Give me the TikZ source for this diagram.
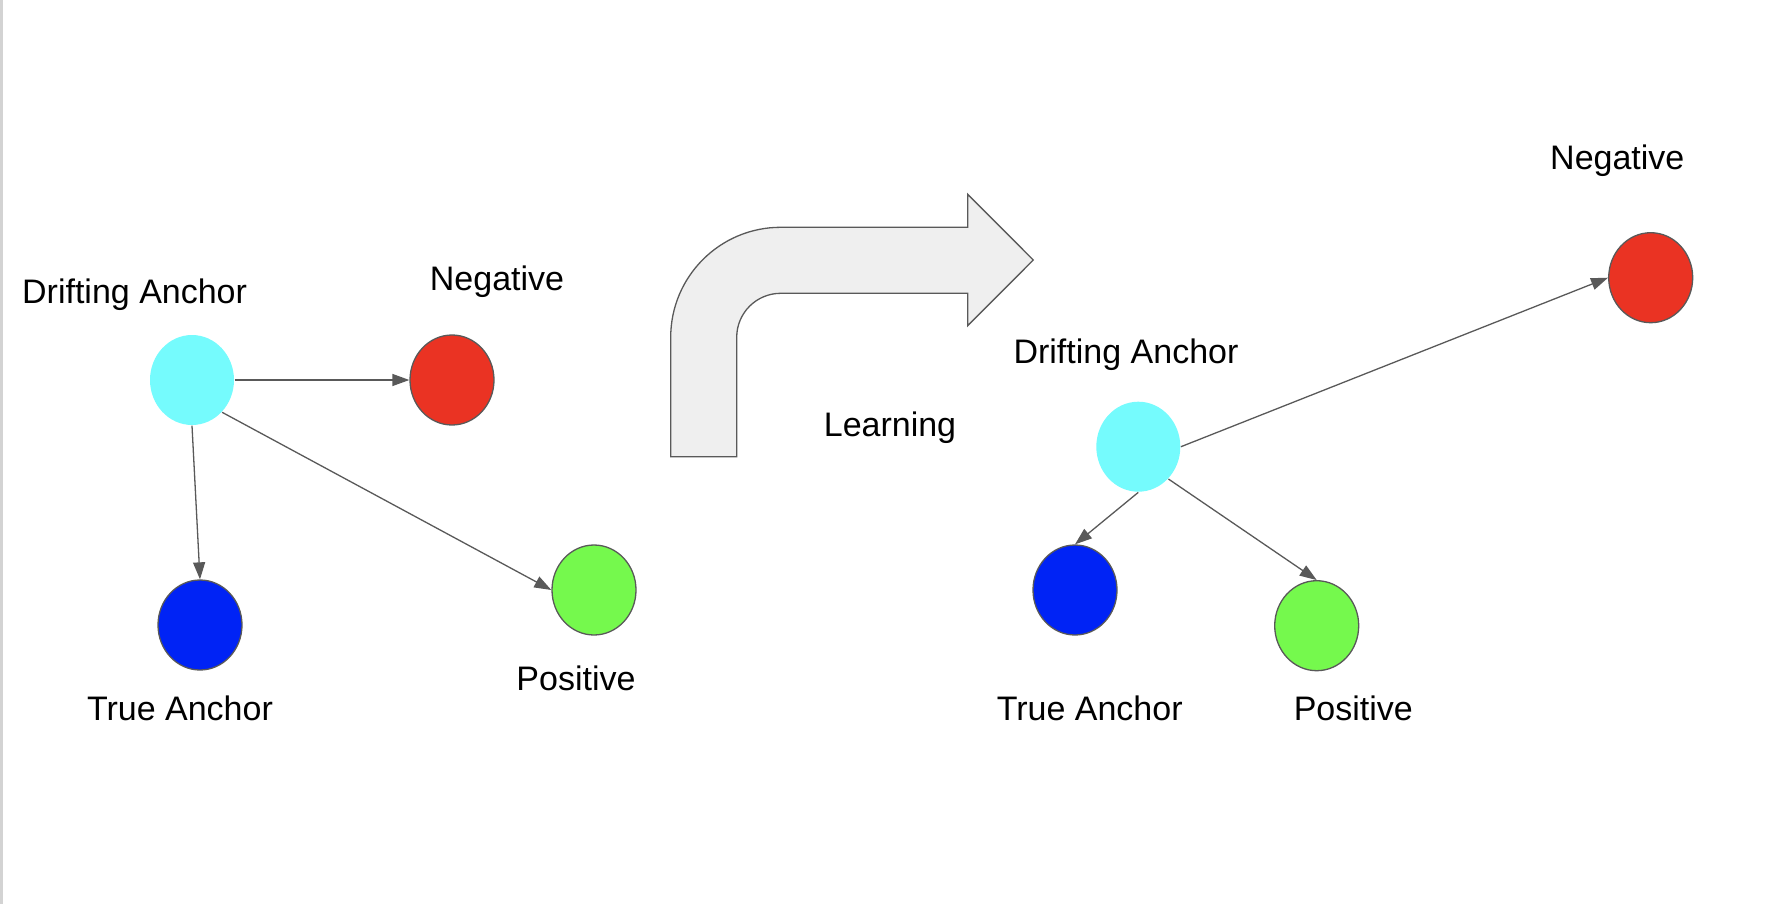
\documentclass[tikz,border=0pt]{standalone}
\usepackage{fontspec}
\setmainfont{Liberation Sans}
\usetikzlibrary{arrows.meta,shapes.geometric}
\definecolor{cy}{HTML}{75FBFD}
\definecolor{rd}{HTML}{EA3323}
\definecolor{bl}{HTML}{0023F5}
\definecolor{gr}{HTML}{75F94D}
\definecolor{edge}{HTML}{595959}
\definecolor{arrowfill}{HTML}{EFEFEF}
\definecolor{border}{HTML}{D3D3D3}
\begin{document}
\begin{tikzpicture}[x=1pt,y=-1pt,
  dot/.style={ellipse, inner sep=0pt, minimum width=84pt, minimum height=90pt, draw=edge, line width=1.3pt},
  lbl/.style={anchor=base, inner sep=0pt, font=\fontsize{34}{40}\selectfont},
  link/.style={draw=edge, line width=1.3pt, -{Triangle[length=17pt,width=12pt]}}]
\useasboundingbox (0,0) rectangle (1768,904);
\fill[border] (0,0) rectangle (2.5,904);

% left panel
\node[dot, fill=cy, draw=none] (da1) at (192,380) {};
\node[dot, fill=rd] (neg1) at (452,380) {};
\node[dot, fill=bl] (ta1) at (200,625) {};
\node[dot, fill=gr] (pos1) at (594,590) {};
\node[lbl] (lda1) at (134.6,303.3) {Drifting Anchor};
\node[lbl] (lneg1) at (497,290.5) {Negative};
\node[lbl] (lta1) at (180,720) {True Anchor};
\node[lbl] (lpos1) at (576,690.5) {Positive};
\draw[link] (da1.east) -- (neg1.west);
\draw[link] (da1.south) -- (ta1.north);
\draw[link] (da1.-47) -- (pos1.west);

% bent arrow
\draw[fill=arrowfill, draw=edge, line width=1.3pt, line join=miter]
  (670.7,456.7) -- (670.7,337.3)
  .. controls (670.7,276.55) and (719.95,227.3) .. (780.7,227.3)
  -- (967.7,227.3) -- (967.7,194.3) -- (1033.3,260) -- (967.7,325.7)
  -- (967.7,293.3) -- (780.7,293.3)
  .. controls (756.4,293.3) and (736.7,313) .. (736.7,337.3)
  -- (736.7,456.7) -- cycle;
\node[lbl] (learn) at (890,436) {Learning};

% right panel
\node[dot, fill=cy, draw=none] (da2) at (1138.3,446.7) {};
\node[dot, fill=rd] (neg2) at (1650.7,277.7) {};
\node[dot, fill=bl] (ta2) at (1075,590) {};
\node[dot, fill=gr] (pos2) at (1316.7,625.7) {};
\node[lbl] (lda2) at (1126,363.3) {Drifting Anchor};
\node[lbl] (lneg2) at (1617.3,169.3) {Negative};
\node[lbl] (lta2) at (1089.7,720) {True Anchor};
\node[lbl] (lpos2) at (1353.3,720) {Positive};
\draw[link] (da2.east) -- (neg2.west);
\draw[link] (da2.south) -- (ta2.north);
\draw[link] (da2.-47) -- (pos2.north);
\end{tikzpicture}
\end{document}
